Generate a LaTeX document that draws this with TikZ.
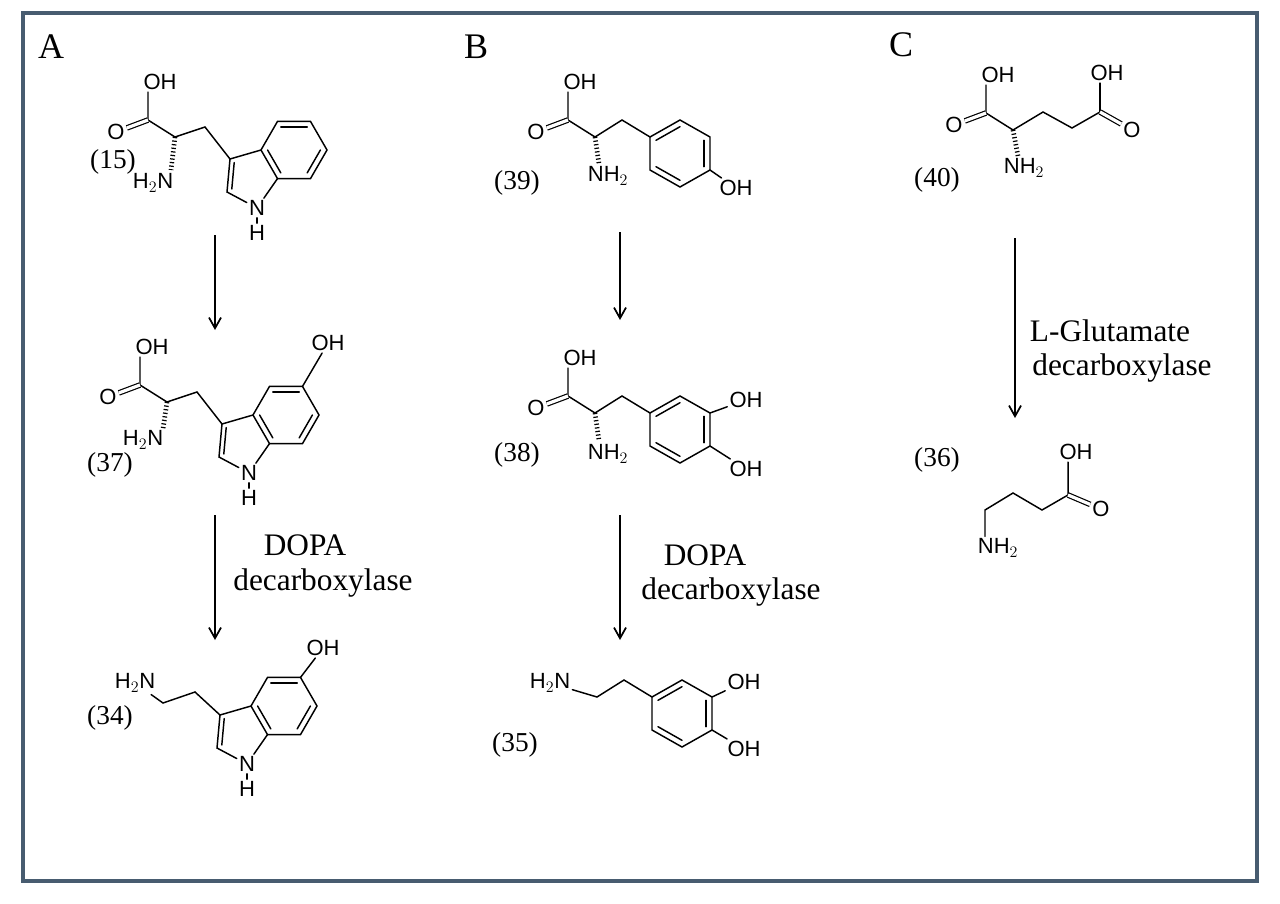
\documentclass[tikz,border=0pt]{standalone}
\usepackage{fontspec}
\setmainfont{Liberation Serif}
\newfontfamily\atomf{Liberation Sans}
\usetikzlibrary{arrows.meta,calc}
\definecolor{framec}{RGB}{72,92,112}
\tikzset{
 bond/.style={line width=1.1pt,line cap=round},
 dbo/.style={double,double distance=2.4pt,line width=0.9pt},
 hash/.style={line width=3.5pt,dash pattern=on 0.9pt off 1.8pt},
 atom/.style={font=\atomf\fontsize{16.5}{16.5}\selectfont,inner sep=1.5pt},
 cnum/.style={font=\fontsize{20.5}{20.5}\selectfont,inner sep=0pt},
 plab/.style={font=\fontsize{27}{27}\selectfont,inner sep=0pt},
 enz/.style={font=\fontsize{23.5}{28}\selectfont,inner sep=0pt,align=center},
 rxn/.style={line width=1.3pt,-{Straight Barb[length=8pt,width=9pt,line width=1.3pt]}},
}
\newcommand{\inner}[3]{\draw[bond] ($(#1)!0.2!(#3)$) -- ($(#2)!0.2!(#3)$);}
\newcommand{\aahead}{
 \coordinate (al) at (0,0); \coordinate (c1) at (-27,-17);
 \node[atom] (oh) at (-15,-55) {OH};
 \node[atom] (o) at (-59,-5) {O};
 \draw[bond] (al) -- (c1) -- (c1|-oh.south);
 \draw[dbo] (c1) -- (o);
}
\newcommand{\indole}{
 \coordinate (c3) at (55,22); \coordinate (c3a) at (86,13);
 \coordinate (c4) at (102.5,-15.6); \coordinate (c5) at (135.5,-15.6);
 \coordinate (c6) at (152,13); \coordinate (c7) at (135.5,41.6);
 \coordinate (c7a) at (102.5,41.6); \coordinate (c2) at (52,55);
 \coordinate (hc) at (119,13); \coordinate (pc) at (76,40);
 \node[atom] (n1) at (82,71) {N};
 \node[atom] (h1) at (82,96) {H};
 \draw[bond] (c3) -- (c3a) -- (c4) -- (c5) -- (c6) -- (c7) -- (c7a) -- (c3a);
 \draw[bond] (c7a) -- (n1) -- (c2) -- (c3);
 \draw[bond] (n1) -- (h1);
 \inner{c4}{c5}{hc} \inner{c6}{c7}{hc} \inner{c3a}{c7a}{hc} \inner{c2}{c3}{pc}
}
\newcommand{\benz}{
 \coordinate (r1) at (55,0); \coordinate (r2) at (85,-17); \coordinate (r3) at (115,0);
 \coordinate (r4) at (115,33); \coordinate (r5) at (85,50); \coordinate (r6) at (55,33);
 \coordinate (rc) at (85,16.5);
 \draw[bond] (r1) -- (r2) -- (r3) -- (r4) -- (r5) -- (r6) -- cycle;
 \inner{r1}{r2}{rc} \inner{r3}{r4}{rc} \inner{r5}{r6}{rc}
}
\begin{document}
\begin{tikzpicture}[x=0.75pt,y=-0.75pt]
\useasboundingbox (0,0) rectangle (1280,903);
\draw[framec,line width=2.6pt] (23,13) rectangle (1257,881);

\node[plab] (pA) at (51,47) {A};
\node[plab] (pB) at (476,47) {B};
\node[plab] (pC) at (901,45) {C};

% (15) tryptophan
\begin{scope}[shift={(175,137)}]
 \aahead \indole
 \coordinate (ch2) at (30,-10);
 \draw[bond] (al) -- (ch2) -- (c3);
 \node[atom] (n) at (-22,46) {H$_2$N};
 \draw[hash] (al) -- (-4,33);
\end{scope}
\node[cnum] (l15) at (113,162) {(15)};

% (37) 5-HTP
\begin{scope}[shift={(167,402)}]
 \aahead \indole
 \coordinate (ch2) at (30,-10);
 \draw[bond] (al) -- (ch2) -- (c3);
 \node[atom] (n) at (-24,38) {H$_2$N};
 \draw[hash] (al) -- (-4,27);
 \node[atom] (oh5) at (161,-59) {OH};
 \draw[bond] (c5) -- (oh5);
\end{scope}
\node[cnum] (l37) at (110,465) {(37)};

% (34) serotonin
\begin{scope}[shift={(165,693)}]
 \indole
 \node[atom] (n) at (-30,-10) {H$_2$N};
 \coordinate (ca) at (-2,10); \coordinate (cb) at (30,-1);
 \draw[bond] (n) -- (ca) -- (cb) -- (c3);
 \node[atom] (oh5) at (158,-45) {OH};
 \draw[bond] (c5) -- (oh5);
\end{scope}
\node[cnum] (l34) at (110,718) {(34)};

% (39) tyrosine
\begin{scope}[shift={(595,137)}]
 \aahead \benz
 \draw[bond] (al) -- (27,-17) -- (r1);
 \node[atom] (n) at (13,39) {NH$_2$};
 \draw[hash] (al) -- (4,27);
 \node[atom] (ohp) at (141,51) {OH};
 \draw[bond] (r4) -- (ohp);
\end{scope}
\node[cnum] (l39) at (517,183) {(39)};

% (38) L-DOPA
\begin{scope}[shift={(595,413)}]
 \aahead \benz
 \draw[bond] (al) -- (27,-17) -- (r1);
 \node[atom] (n) at (13,41) {NH$_2$};
 \draw[hash] (al) -- (4,28);
 \node[atom] (ohm) at (151,-13) {OH};
 \node[atom] (ohp) at (151,56) {OH};
 \draw[bond] (r3) -- (ohm); \draw[bond] (r4) -- (ohp);
\end{scope}
\node[cnum] (l38) at (517,455) {(38)};

% (35) dopamine
\begin{scope}[shift={(597,697)}]
 \benz
 \node[atom] (n) at (-47,-14) {H$_2$N};
 \draw[bond] (n) -- (0,0) -- (27,-17) -- (r1);
 \node[atom] (ohm) at (147,-15) {OH};
 \node[atom] (ohp) at (147,52) {OH};
 \draw[bond] (r3) -- (ohm); \draw[bond] (r4) -- (ohp);
\end{scope}
\node[cnum] (l35) at (515,745) {(35)};

% (40) glutamate
\begin{scope}[shift={(1013,130)}]
 \aahead
 \node[atom] (n) at (11,38) {NH$_2$};
 \draw[hash] (al) -- (5,26);
 \coordinate (g3) at (30,-18); \coordinate (g4) at (59,-2); \coordinate (g5) at (87,-18);
 \draw[bond] (al) -- (g3) -- (g4) -- (g5);
 \node[atom] (oh2) at (94,-57) {OH};
 \node[atom] (o2) at (119,0) {O};
 \draw[bond] (g5) -- (g5|-oh2.south);
 \draw[dbo] (g5) -- (o2);
\end{scope}
\node[cnum] (l40) at (937,180) {(40)};

% (36) GABA
\coordinate (b1) at (1068,495); \coordinate (b2) at (1042,510);
\coordinate (b3) at (1013,493); \coordinate (b4) at (985,510);
\node[atom] (gn) at (998,548) {NH$_2$};
\node[atom] (goh) at (1076,452) {OH};
\node[atom] (go) at (1101,509) {O};
\draw[bond] (gn.north-|b4) -- (b4) -- (b3) -- (b2) -- (b1) -- (b1|-goh.south);
\draw[dbo] (b1) -- (go);
\node[cnum] (l36) at (937,460) {(36)};

% arrows
\coordinate (a1s) at (215,235); \coordinate (a1e) at (215,330);
\coordinate (a2s) at (215,515); \coordinate (a2e) at (215,640);
\coordinate (b1s) at (620,232); \coordinate (b1e) at (620,320);
\coordinate (b2s) at (620,515); \coordinate (b2e) at (620,640);
\coordinate (c1s) at (1015,238); \coordinate (c1e) at (1015,418);
\draw[rxn] (a1s) -- (a1e);
\draw[rxn] (a2s) -- (a2e);
\draw[rxn] (b1s) -- (b1e);
\draw[rxn] (b2s) -- (b2e);
\draw[rxn] (c1s) -- (c1e);

\node[enz] (e1) at (305,545) {DOPA};
\node[enz] (e1b) at (323,583) {decarboxylase};
\node[enz] (e2) at (705,555) {DOPA};
\node[enz] (e2b) at (731,592) {decarboxylase};
\node[enz] (e3) at (1110,331) {L-Glutamate};
\node[enz] (e3b) at (1122,368) {decarboxylase};
\end{tikzpicture}
\end{document}
